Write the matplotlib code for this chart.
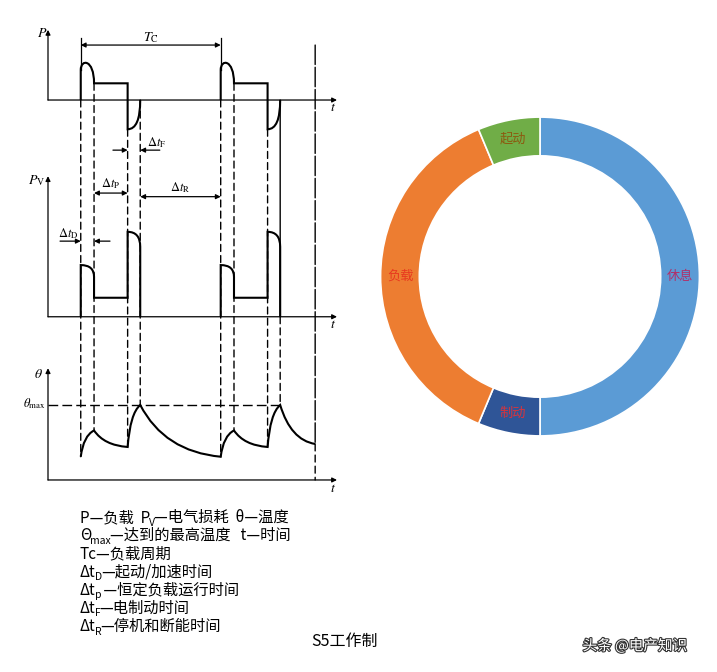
import matplotlib.pyplot as plt
from matplotlib.path import Path
from matplotlib.patches import PathPatch, ConnectionPatch
import matplotlib.patheffects as pe

plt.rcParams['font.family'] = ['Noto Sans CJK SC', 'DejaVu Sans']
plt.rcParams['mathtext.fontset'] = 'stix'

W, H = 717, 672

# 右侧圆环：一个周期内各阶段所占比例（顺时针，从 12 点开始）
parts = ['休息', '制动', '负载', '起动']
shares = [50.0, 6.3, 37.4, 6.3]
part_colors = ['#5B9BD5', '#2F5597', '#ED7D31', '#70AD47']
label_colors = ['#B0306A', '#D8343C', '#E8381F', '#8C5A10']

# 左侧 S5 工作制示意：各时段长度（任意时间单位）
dt_D, dt_P, dt_F, dt_R = 0.95, 2.4, 0.9, 5.75
T_c = dt_D + dt_P + dt_F + dt_R
cycle_starts = [0.0, T_c]
t_end = 16.75

# 负载 P
p_jump, p_peak, p_load, p_brake = 1.8, 2.2, 1.0, -1.75
# 电气损耗 Pv
pv_start = [2.72, 2.1]
pv_load = 1.0
pv_brake = [4.47, 3.68]
# 温度 θ
theta_low, theta_start, theta_load, theta_max, theta_end = 0.31, 0.66, 0.44, 1.0, 0.48

# 说明文字：(文字, 是否下标)
legend_lines = [
    [('P—负载  P', 0), ('V', 1), ('—电气损耗  θ—温度', 0)],
    [('Θ', 0), ('max', 1), ('—达到的最高温度   t—时间', 0)],
    [('Tc—负载周期', 0)],
    [('Δt', 0), ('D', 1), ('—起动/加速时间', 0)],
    [('Δt', 0), ('p', 1), (' —恒定负载运行时间', 0)],
    [('Δt', 0), ('F', 1), ('—电制动时间', 0)],
    [('Δt', 0), ('R', 1), ('—停机和断能时间', 0)],
]

T0, T1 = -2.34, 18.31
LW = 1.5
arr = dict(arrowstyle='-|>', color='black', lw=0.9, mutation_scale=7, shrinkA=0, shrinkB=0)
arr2 = dict(arrowstyle='<|-|>', color='black', lw=0.9, mutation_scale=7, shrinkA=0, shrinkB=0)
dash = (0, (5, 3))


def px(x, y):
    return x / W, 1 - y / H


def add_axes_px(x0, y0, x1, y1):
    ax = fig.add_axes([x0 / W, 1 - y1 / H, (x1 - x0) / W, (y1 - y0) / H])
    ax.axis('off')
    return ax


def events(t0):
    return t0, t0 + dt_D, t0 + dt_D + dt_P, t0 + dt_D + dt_P + dt_F


def draw_frame(ax, y_top):
    ax.annotate('', xy=(T1, 0), xytext=(T0, 0), arrowprops=arr, annotation_clip=False)
    ax.annotate('', xy=(T0, y_top), xytext=(T0, 0), arrowprops=arr, annotation_clip=False)


def link(ax_a, ya, ax_b, yb, t, ls):
    fig.add_artist(ConnectionPatch(xyA=(t, ya), coordsA=ax_a.transData,
                                   xyB=(t, yb), coordsB=ax_b.transData,
                                   color='black', lw=1.0, linestyle=ls))


def draw_runs(x, y, runs, renderer):
    """y 为基线位置（像素，自上而下）"""
    for s, sub in runs:
        t = fig.text(*px(x, y + (3.5 if sub else 0)), s, ha='left', va='baseline',
                     fontsize=7.5 if sub else 11, fontweight='medium')
        x = t.get_window_extent(renderer).x1 - 1


fig = plt.figure(figsize=(W / 100, H / 100), dpi=100, facecolor='white')
renderer = fig.canvas.get_renderer()

axP = add_axes_px(48, 25, 337, 160)
axP.set_xlim(T0, T1)
axP.set_ylim(-3.59, 4.49)
axV = add_axes_px(48, 160, 337, 335)
axV.set_xlim(T0, T1)
axV.set_ylim(-0.96, 8.25)
axT = add_axes_px(48, 335, 337, 500)
axT.set_xlim(T0, T1)
axT.set_ylim(-0.267, 1.933)

draw_frame(axP, 4.2)
draw_frame(axV, 7.4)
draw_frame(axT, 1.49)

M, L, C3, C4 = Path.MOVETO, Path.LINETO, Path.CURVE3, Path.CURVE4
h = (p_peak - 0.125 * (p_jump + p_load)) / 0.75
for t0 in cycle_starts:
    a, b, c, d = events(t0)
    verts = [(a, 0), (a, p_jump), (a, h), (b, h), (b, p_load), (c, p_load),
             (c, p_brake), (d, p_brake), (d, 0)]
    codes = [M, L, C4, C4, C4, L, L, C3, C3]
    axP.add_patch(PathPatch(Path(verts, codes), fill=False, lw=LW, clip_on=False))
    verts = [(a, 0), (a, pv_start[0]), (b, pv_start[0]), (b, pv_start[1]), (b, pv_load),
             (c, pv_load), (c, pv_brake[0]), (d, pv_brake[0]), (d, pv_brake[1]), (d, 0)]
    codes = [M, L, C3, C3, L, L, L, C3, C3, L]
    axV.add_patch(PathPatch(Path(verts, codes), fill=False, lw=LW, clip_on=False))

# θ 曲线：升温段与冷却段交替
theta_t, theta_v = [], []
for t0 in cycle_starts:
    theta_t += list(events(t0))
    theta_v += [theta_low, theta_start, theta_load, theta_max]
theta_t.append(t_end)
theta_v.append(theta_end)
verts, codes = [(theta_t[0], theta_v[0])], [M]
for i in range(1, len(theta_t)):
    x0, y0, x1, y1 = theta_t[i - 1], theta_v[i - 1], theta_t[i], theta_v[i]
    if y1 > y0:
        ctrl = (x0 + 0.2 * (x1 - x0), y0 + 0.8 * (y1 - y0))
    else:
        ctrl = (x0 + 0.3 * (x1 - x0), y0 + 0.9 * (y1 - y0))
    verts += [ctrl, (x1, y1)]
    codes += [C3, C3]
axT.add_patch(PathPatch(Path(verts, codes), fill=False, lw=LW, clip_on=False))

# 竖向虚线
for k, t0 in enumerate(cycle_starts):
    a, b, c, d = events(t0)
    link(axP, 0, axT, theta_low, a, dash)
    link(axP, p_load, axT, theta_start, b, dash)
    link(axP, p_brake, axT, theta_load, c, dash)
    if k == len(cycle_starts) - 1:
        link(axP, 0, axV, 0, d, '-')
        link(axV, 0, axT, theta_max, d, dash)
    else:
        link(axP, 0, axT, theta_max, d, dash)
link(axP, 3.29, axT, theta_end, t_end, (0, (14, 2)))
link(axT, theta_end, axT, 0, t_end, dash)

axT.plot([T0, events(cycle_starts[-1])[3]], [theta_max, theta_max], color='black',
         lw=1.0, linestyle=(0, (7, 3)), clip_on=False)

# 周期标注
for t0 in cycle_starts:
    axP.plot([t0, t0], [3.71, p_jump], color='black', lw=0.9, clip_on=False)
axP.annotate('', xy=(0, 3.29), xytext=(T_c, 3.29), arrowprops=arr2, annotation_clip=False)
axP.text(T_c / 2, 3.75, '$T_\\mathrm{C}$', ha='center', va='center', fontsize=10)

a, b, c, d = events(0)
axP.annotate('', xy=(c, -3.0), xytext=(c - 1.05, -3.0), arrowprops=arr, annotation_clip=False)
axP.annotate('', xy=(d, -3.0), xytext=(d + 1.4, -3.0), arrowprops=arr, annotation_clip=False)
axP.text(d + 1.2, -2.55, '$\\Delta t_\\mathrm{F}$', ha='center', va='center', fontsize=9)

axV.annotate('', xy=(b, 6.51), xytext=(c, 6.51), arrowprops=arr2, annotation_clip=False)
axV.text((b + c) / 2, 7.0, '$\\Delta t_\\mathrm{P}$', ha='center', va='center', fontsize=9)
axV.annotate('', xy=(d, 6.32), xytext=(T_c, 6.32), arrowprops=arr2, annotation_clip=False)
axV.text((d + T_c) / 2, 6.8, '$\\Delta t_\\mathrm{R}$', ha='center', va='center', fontsize=9)
axV.annotate('', xy=(a, 3.98), xytext=(a - 1.48, 3.98), arrowprops=arr, annotation_clip=False)
axV.annotate('', xy=(b, 3.98), xytext=(b + 1.14, 3.98), arrowprops=arr, annotation_clip=False)
axV.text(a - 0.9, 4.4, '$\\Delta t_\\mathrm{D}$', ha='center', va='center', fontsize=9)

# 轴名
fig.text(*px(42, 33), '$P$', ha='center', va='center', fontsize=10)
fig.text(*px(37, 181), '$P_\\mathrm{V}$', ha='center', va='center', fontsize=10)
fig.text(*px(38, 374), '$\\theta$', ha='center', va='center', fontsize=10)
fig.text(*px(34, 404), '$\\theta_{\\max}$', ha='center', va='center', fontsize=9)
for y in (107, 324, 488):
    fig.text(*px(333, y), '$t$', ha='center', va='center', fontsize=10)

# 图例文字
for i, runs in enumerate(legend_lines):
    draw_runs(80, 522 + 18.2 * i, runs, renderer)
fig.text(*px(345, 641), 'S5工作制', ha='center', va='center', fontsize=11.5,
         fontweight='medium')
fig.text(*px(635, 646), '头条 @电产知识', ha='center', va='center', fontsize=10.5,
         color='white', path_effects=[pe.withStroke(linewidth=1.6, foreground='#333333')])

# 圆环
axD = add_axes_px(540 - 161, 276.5 - 161, 540 + 161, 276.5 + 161)
wedges, texts = axD.pie(shares, labels=parts, colors=part_colors, startangle=90,
                        counterclock=False, radius=1, labeldistance=0.878,
                        wedgeprops=dict(width=0.243, edgecolor='white', linewidth=1.2),
                        textprops=dict(fontsize=9.5, ha='center', va='center'))
for t, col in zip(texts, label_colors):
    t.set_color(col)
axD.set_xlim(-1.01, 1.01)
axD.set_ylim(-1.01, 1.01)
axD.set_aspect('equal')

fig.savefig('out.png', dpi=100, facecolor='white')
